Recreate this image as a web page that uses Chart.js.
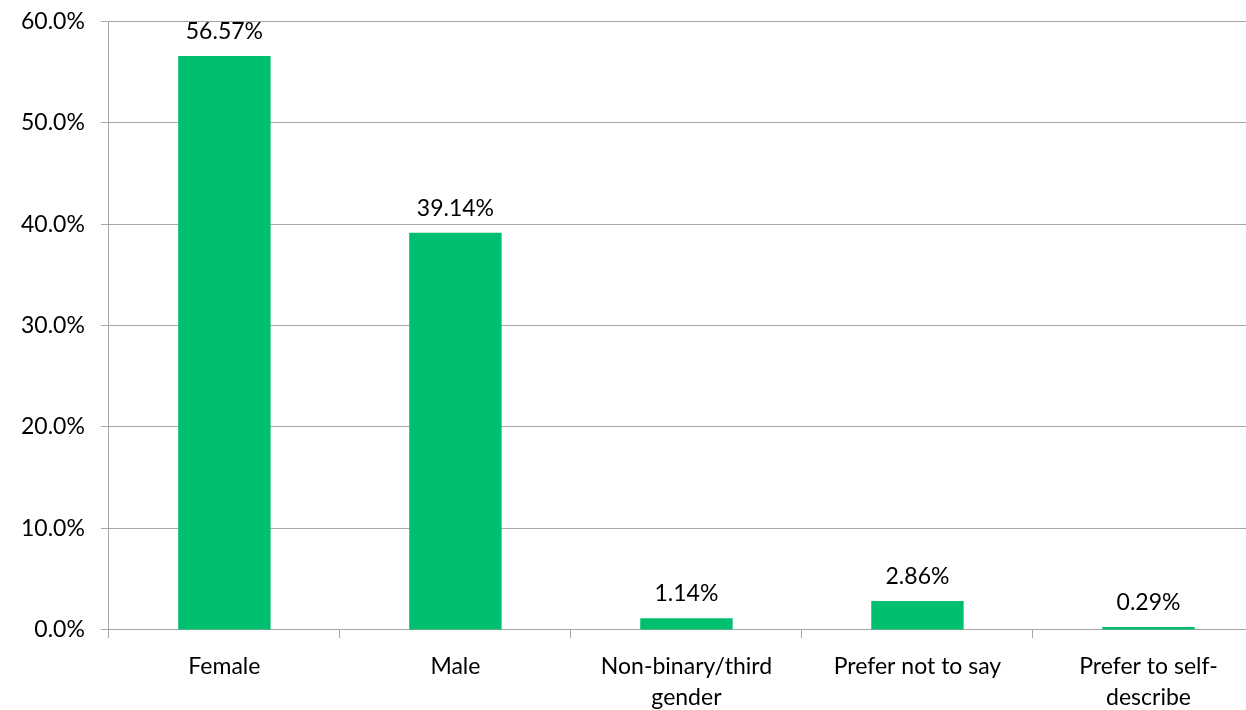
<!DOCTYPE html>
<html>
<head>
<meta charset="utf-8">
<script src="https://cdn.jsdelivr.net/npm/chart.js@4"></script>
<style>
  html, body { margin: 0; padding: 0; background: #ffffff; overflow: hidden; }
  #wrap { width: 1272px; height: 710px; }
</style>
</head>
<body>
<div id="wrap"><canvas id="generoChart"></canvas></div>
<script>
const categorias = [["Female"], ["Male"], ["Non-binary/third", "gender"], ["Prefer not to say"], ["Prefer to self-", "describe"]]
const percentuais = [56.57, 39.14, 1.14, 2.86, 0.29]
const ticksY = [0, 10, 20, 30, 40, 50, 60]

const verde = '#00BF6F'
const cinza = '#A6A6A6'
const fonte = "Lato, 'Liberation Sans', sans-serif"
const tamanho = 23

// escreve o valor em cima de cada barra
const rotulosValor = {
    id: 'rotulosValor',
    afterDatasetsDraw(chart) {
        const ctx = chart.ctx
        const meta = chart.getDatasetMeta(0)
        ctx.save()
        ctx.font = tamanho + 'px ' + fonte
        ctx.fillStyle = '#000000'
        ctx.textAlign = 'center'
        ctx.textBaseline = 'bottom'
        meta.data.forEach(function (barra, i) {
            ctx.fillText(percentuais[i].toFixed(2) + '%', barra.x, barra.y - 13)
        })
        ctx.restore()
    }
}

function carregarGrafico(){
    const generoChart = document.getElementById("generoChart")

    new Chart(generoChart, {
        type: 'bar',
        data: {
            labels: categorias,
            datasets: [{
                label: "Gender",
                data: percentuais,
                backgroundColor: verde,
                borderWidth: 0,
                barPercentage: 0.4,
                categoryPercentage: 1
            }]
        },
        options: {
            responsive: true,
            maintainAspectRatio: false,
            animation: false,
            layout: {
                padding: { top: 0, left: 5, right: 8, bottom: -16 }
            },
            plugins: {
                legend: { display: false },
                tooltip: { enabled: false }
            },
            scales: {
                x: {
                    grid: {
                        offset: true,
                        drawOnChartArea: false,
                        color: cinza,
                        tickLength: 8
                    },
                    border: { color: cinza, width: 1 },
                    ticks: {
                        color: '#000000',
                        maxRotation: 0,
                        autoSkip: false,
                        padding: 13,
                        font: { size: tamanho, family: fonte, lineHeight: 1.35 }
                    }
                },
                y: {
                    min: 0,
                    max: 60,
                    afterBuildTicks(axis) {
                        axis.ticks = ticksY.map(v => ({ value: v }))
                    },
                    grid: {
                        color: cinza,
                        tickLength: 8
                    },
                    border: { color: cinza, width: 1 },
                    ticks: {
                        color: '#000000',
                        padding: 16,
                        font: { size: tamanho, family: fonte, lineHeight: 0.45 },
                        callback: v => v.toFixed(1) + '%'
                    }
                }
            }
        },
        plugins: [rotulosValor]
    })
}

carregarGrafico()
</script>
</body>
</html>
